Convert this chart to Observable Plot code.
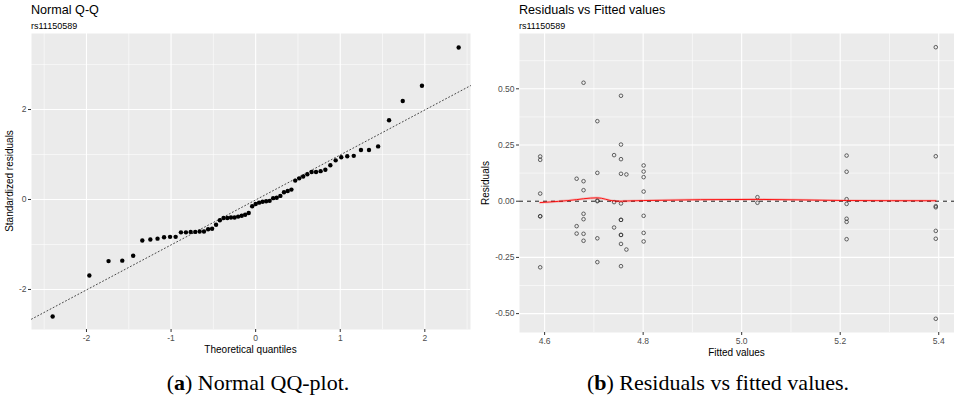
<!DOCTYPE html>
<html><head><meta charset="utf-8">
<script src="https://cdn.jsdelivr.net/npm/d3@7"></script>
<script src="https://cdn.jsdelivr.net/npm/@observablehq/plot@0.6"></script>
<style>
body{margin:0;background:#fff;}
#wrap{position:relative;width:954px;height:409px;overflow:hidden;font-family:"Liberation Sans",Arial,sans-serif;}
.t{position:absolute;white-space:nowrap;line-height:1;color:#000;}
.rot{transform:translate(-50%,-50%) rotate(-90deg);}
.ctr{transform:translateX(-50%);}
.cap{font-family:"Liberation Serif","Times New Roman",serif;font-size:22px;}
#left,#right{position:absolute;top:0;}
#left{left:0;} #right{left:470px;}
</style></head><body><div id="wrap">
<div id="left"></div><div id="right"></div>
</div>
<script>
// ---------- Data: Normal Q-Q ----------
const qqTheoretical = [
 -2.400,-1.966,-1.739,-1.577,-1.448,-1.340,-1.245,-1.160,-1.083,-1.012,
 -0.946,-0.883,-0.824,-0.768,-0.714,-0.662,-0.611,-0.562,-0.515,-0.468,
 -0.423,-0.379,-0.335,-0.292,-0.249,-0.207,-0.165,-0.124,-0.082,-0.041,
 0.000,0.041,0.082,0.124,0.165,0.207,0.249,0.292,0.335,0.379,
 0.423,0.468,0.515,0.562,0.611,0.662,0.714,0.768,0.824,0.883,
 0.946,1.012,1.083,1.160,1.245,1.340,1.448,1.577,1.739,1.966,2.400];
const qqStdResiduals = [
 -2.60,-1.69,-1.37,-1.36,-1.25,-0.91,-0.89,-0.87,-0.84,-0.83,
 -0.83,-0.73,-0.73,-0.72,-0.72,-0.71,-0.71,-0.66,-0.65,-0.56,
 -0.46,-0.41,-0.41,-0.40,-0.40,-0.38,-0.36,-0.34,-0.30,-0.15,
 -0.10,-0.07,-0.05,-0.04,-0.03,0.03,0.04,0.08,0.16,0.19,
 0.22,0.42,0.47,0.51,0.56,0.61,0.61,0.63,0.66,0.76,
 0.87,0.94,0.96,0.97,1.10,1.10,1.18,1.76,2.19,2.53,3.38];
const qqLineSlope = 1.0;
const qqLineIntercept = -0.01;
const qqXTicks = [-2,-1,0,1,2];
const qqXMinor = [-2.5,-1.5,-0.5,0.5,1.5,2.5];
const qqYTicks = [-2,0,2];
const qqYMinor = [-1,1,3];

// ---------- Data: Residuals vs Fitted ----------
const fittedValues = [
 4.591,4.591,4.591,4.591,4.591,4.591,
 4.665,4.665,4.665,
 4.679,4.679,4.679,4.679,4.679,4.679,4.679,
 4.707,4.707,4.707,4.707,4.707,4.707,
 4.741,4.741,4.741,
 4.755,4.755,4.755,4.755,4.755,4.755,4.755,4.755,4.755,4.755,4.755,
 4.766,4.766,
 4.801,4.801,4.801,4.801,4.801,4.801,4.801,
 5.032,5.032,
 5.213,5.213,5.213,5.213,5.213,5.213,5.213,
 5.394,5.394,5.394,5.394,5.394,5.394,5.394];
const residualValues = [
 0.199,0.184,0.034,-0.067,-0.067,-0.294,
 0.100,-0.111,-0.144,
 0.527,0.089,0.049,-0.056,-0.080,-0.145,-0.176,
 0.356,0.126,0.003,0.000,-0.165,-0.271,
 0.205,-0.004,-0.117,
 0.469,0.252,0.187,0.122,-0.010,-0.083,-0.083,-0.150,-0.150,-0.190,-0.289,
 0.119,-0.215,
 0.159,0.132,0.107,0.043,-0.065,-0.141,-0.179,
 0.018,-0.007,
 0.203,0.131,0.009,-0.012,-0.078,-0.092,-0.169,
 0.685,0.200,-0.022,-0.027,-0.132,-0.167,-0.523];
const smoothFitted = [4.591,4.665,4.679,4.707,4.741,4.755,4.766,4.801,5.032,5.213,5.394];
const smoothResid  = [-0.006,0.007,0.011,0.015,0.001,0.000,0.001,0.003,0.008,0.003,0.002];
const rvfXTicks = [4.6,4.8,5.0,5.2,5.4];
const rvfXMinor = [4.7,4.9,5.1,5.3];
const rvfYTicks = [-0.5,-0.25,0,0.25,0.5];
const rvfYMinor = [-0.375,-0.125,0.125,0.375,0.625];

// ---------- Build ----------
const qqData = qqTheoretical.map((x,i)=>({x, y: qqStdResiduals[i]}));
const qqXDomain = [-2.65, 2.54];
const qqLine = qqXDomain.map(x=>({x, y: qqLineIntercept + qqLineSlope*x}));
const rvfData = fittedValues.map((x,i)=>({x, y: residualValues[i]}));
const smoothData = smoothFitted.map((x,i)=>({x, y: smoothResid[i]}));

const axisStyle = {tickSize:3, tickPadding:2, stroke:"#333333", fill:"#4D4D4D", label:null, fontSize:8.5};
const style = {fontFamily:"'Liberation Sans',Arial,sans-serif", fontSize:"8.5px", background:"transparent", overflow:"visible"};

const left = Plot.plot({
  width:475, height:360,
  marginLeft:31, marginRight:5, marginTop:33, marginBottom:31,
  x:{domain:qqXDomain},
  y:{domain:[-2.89,3.69]},
  style,
  marks:[
    Plot.frame({fill:"#EBEBEB", stroke:"none"}),
    Plot.gridX(qqXMinor,{stroke:"#fff", strokeOpacity:1, strokeWidth:0.55}),
    Plot.gridY(qqYMinor,{stroke:"#fff", strokeOpacity:1, strokeWidth:0.55}),
    Plot.gridX(qqXTicks,{stroke:"#fff", strokeOpacity:1, strokeWidth:1.1}),
    Plot.gridY(qqYTicks,{stroke:"#fff", strokeOpacity:1, strokeWidth:1.1}),
    Plot.line(qqLine,{x:"x", y:"y", stroke:"#333", strokeWidth:0.9, strokeDasharray:"1,2.5"}),
    Plot.dot(qqData,{x:"x", y:"y", r:2.2, fill:"#000", stroke:"none"}),
    Plot.axisX(qqXTicks,{...axisStyle, tickFormat:d=>String(d)}),
    Plot.axisY(qqYTicks,{...axisStyle, tickFormat:d=>String(d)})
  ]
});
document.getElementById("left").appendChild(left);

const right = Plot.plot({
  width:484, height:360,
  marginLeft:49, marginRight:0, marginTop:33, marginBottom:28,
  x:{domain:[4.549,5.432]},
  y:{domain:[-0.584,0.746]},
  style,
  marks:[
    Plot.frame({fill:"#EBEBEB", stroke:"none"}),
    Plot.gridX(rvfXMinor,{stroke:"#fff", strokeOpacity:1, strokeWidth:0.55}),
    Plot.gridY(rvfYMinor,{stroke:"#fff", strokeOpacity:1, strokeWidth:0.55}),
    Plot.gridX(rvfXTicks,{stroke:"#fff", strokeOpacity:1, strokeWidth:1.1}),
    Plot.gridY(rvfYTicks,{stroke:"#fff", strokeOpacity:1, strokeWidth:1.1}),
    Plot.dot(rvfData,{x:"x", y:"y", r:1.8, fill:"none", stroke:"#333", strokeWidth:0.75}),
    Plot.ruleY([0],{stroke:"#000", strokeWidth:0.9, strokeDasharray:"4,4"}),
    Plot.line(smoothData,{x:"x", y:"y", stroke:"#FF0000", strokeOpacity:0.18, strokeWidth:2.6, curve:"monotone-x"}),
    Plot.line(smoothData,{x:"x", y:"y", stroke:"#FF0000", strokeWidth:0.9, curve:"monotone-x"}),
    Plot.axisX(rvfXTicks,{...axisStyle, tickFormat:d=>d.toFixed(1)}),
    Plot.axisY(rvfYTicks,{...axisStyle, tickFormat:d=>d.toFixed(2)})
  ]
});
document.getElementById("right").appendChild(right);

// ---------- Text ----------
const texts = [
  ["Normal Q-Q", 31, 4.3, "font-size:12.6px;"],
  ["rs11150589", 31, 21.7, "font-size:9px;"],
  ["Residuals vs Fitted values", 519, 4.3, "font-size:12.6px;"],
  ["rs11150589", 519, 21.7, "font-size:9px;"],
];
const wrap = document.getElementById("wrap");
function add(html, x, y, css, cls){
  const d = document.createElement("div");
  d.className = "t " + (cls||"");
  d.style.cssText += `left:${x}px;top:${y}px;` + css;
  d.innerHTML = html;
  wrap.appendChild(d);
}
texts.forEach(t=>add(t[0],t[1],t[2],t[3]));
add("Theoretical quantiles", 250.5, 345, "font-size:10px;", "ctr");
add("Fitted values", 736.5, 347.5, "font-size:10px;", "ctr");
add("Standardized residuals", 10, 181, "font-size:10px;", "rot");
add("Residuals", 486, 182.5, "font-size:10px;", "rot");
add("(<b>a</b>) Normal QQ-plot.", 258, 371.6, "", "ctr cap");
add("(<b>b</b>) Residuals vs fitted values.", 718, 371.6, "", "ctr cap");
</script>
</body></html>
